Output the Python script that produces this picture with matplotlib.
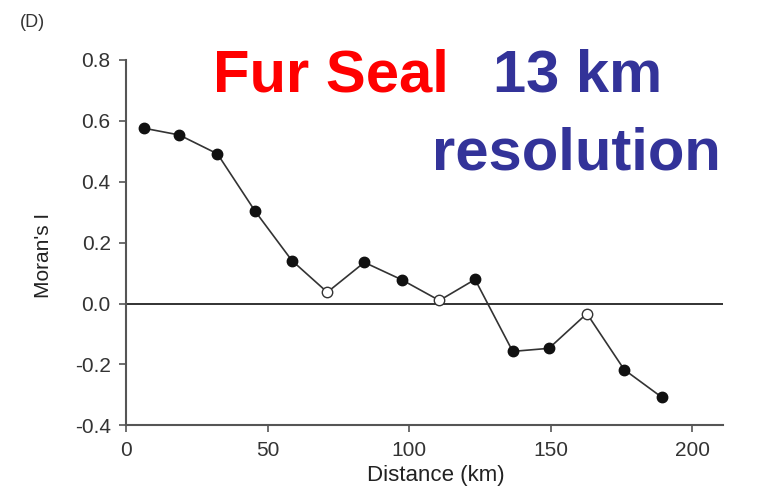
import numpy as np
import matplotlib.pyplot as plt

plt.rcParams['font.family'] = ['Liberation Sans', 'DejaVu Sans']

distance = [6.4, 18.8, 32.3, 45.6, 58.6, 71.1, 84.2, 97.4, 110.7, 123.3, 136.6, 149.4, 162.8, 176.0, 189.2]
morans_i = [0.575, 0.553, 0.491, 0.303, 0.141, 0.037, 0.135, 0.078, 0.010, 0.079, -0.157, -0.147, -0.033, -0.217, -0.307]
significant = [1, 1, 1, 1, 1, 0, 1, 1, 0, 1, 1, 1, 0, 1, 1]

x = np.array(distance)
y = np.array(morans_i)
sig = np.array(significant, dtype=bool)

fig = plt.figure(figsize=(7.59, 4.93), dpi=100)
ax = fig.add_axes([0.166, 0.137, 0.787, 0.742])

ax.axhline(0, color='#222222', lw=1.3, zorder=1)
ax.plot(x, y, color='#333333', lw=1.2, zorder=2)
ax.plot(x[sig], y[sig], 'o', ms=7.5, mfc='#111111', mec='#111111', zorder=3)
ax.plot(x[~sig], y[~sig], 'o', ms=7.5, mfc='white', mec='#333333', mew=1.0, zorder=3)

ax.set_xlim(0, 211)
ax.set_ylim(-0.4, 0.8)
ax.set_xticks([0, 50, 100, 150, 200])
ax.set_yticks([-0.4, -0.2, 0.0, 0.2, 0.4, 0.6, 0.8])
ax.set_yticklabels(['-0.4', '-0.2', '0.0', '0.2', '0.4', '0.6', '0.8'])
for s in ['top', 'right']:
    ax.spines[s].set_visible(False)
for s in ['left', 'bottom']:
    ax.spines[s].set_color('#555555')
    ax.spines[s].set_linewidth(1.5)
ax.tick_params(direction='out', length=5, width=1.2, color='#555555',
               labelsize=15, labelcolor='#333333', pad=6)

ax.set_xlabel('Distance (km)', fontsize=16, color='#222222')
ax.xaxis.set_label_coords(0.518, -0.108)
ax.set_ylabel("Moran's I", fontsize=15, color='#222222')
ax.yaxis.set_label_coords(-0.123, 0.465)

fig.text(0.026, 0.955, '(D)', fontsize=13, color='#333333', va='center')
fig.text(0.281, 0.814, 'Fur Seal', fontsize=43, fontweight='bold', color='#FF0000')
fig.text(0.65, 0.814, '13 km', fontsize=43, fontweight='bold', color='#333399')
fig.text(0.569, 0.657, 'resolution', fontsize=43, fontweight='bold', color='#333399')

plt.savefig('out.png', dpi=100)
